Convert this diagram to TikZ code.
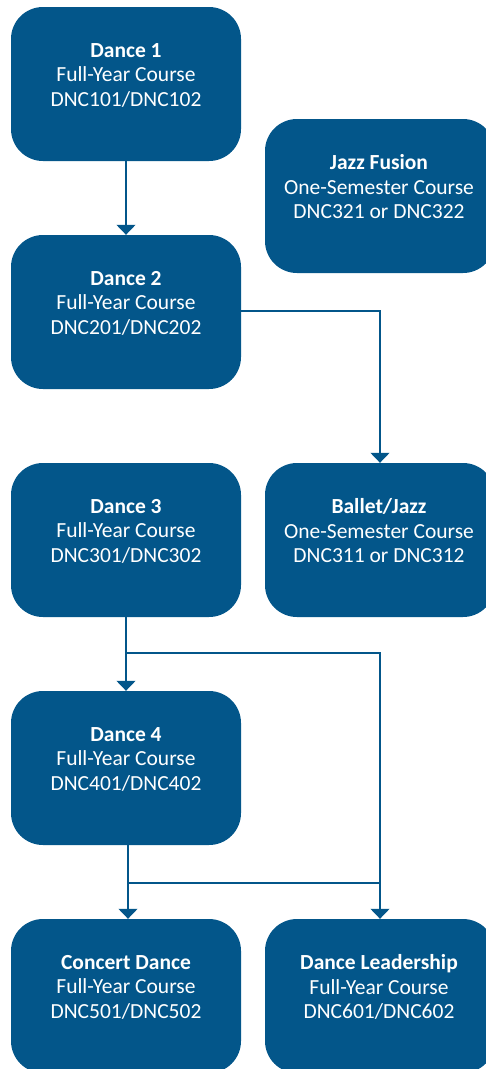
\documentclass[tikz,border=0pt]{standalone}
\usepackage{fontspec}
\setmainfont{Carlito}
\usetikzlibrary{arrows.meta}
\definecolor{navy}{HTML}{03568A}
\tikzset{
  course/.style={fill=navy, draw=none, rounded corners=32pt, minimum width=230pt, minimum height=154pt, inner sep=0pt},
  ctext/.style={text=white, align=center, font=\fontsize{21.5}{24.5}\selectfont, inner sep=0pt},
  link/.style={draw=navy, line width=1.2pt},
  arr/.style={link, -{Triangle[width=19pt,length=10pt]}}
}
\begin{document}
\begin{tikzpicture}[x=1pt,y=-1pt]
\useasboundingbox (0,0) rectangle (486,1069);
\clip (0,0) rectangle (486,1069);
% boxes
\node[course] (d1) at (126,84) {};
\node[course] (d2) at (126,312) {};
\node[course] (d3) at (126,540) {};
\node[course] (d4) at (126,768) {};
\node[course] (cd) at (126,996) {};
\node[course] (jf) at (380,196) {};
\node[course] (bj) at (380,540) {};
\node[course] (dl) at (380,996) {};
% texts
\node[ctext] (d1t) at (126,75) {\textbf{Dance 1}\\Full-Year Course\\DNC101/DNC102};
\node[ctext] (d2t) at (126,303) {\textbf{Dance 2}\\Full-Year Course\\DNC201/DNC202};
\node[ctext] (d3t) at (126,531) {\textbf{Dance 3}\\Full-Year Course\\DNC301/DNC302};
\node[ctext] (d4t) at (126,759) {\textbf{Dance 4}\\Full-Year Course\\DNC401/DNC402};
\node[ctext] (cdt) at (126,987) {\textbf{Concert Dance}\\Full-Year Course\\DNC501/DNC502};
\node[ctext] (jft) at (379,187) {\textbf{Jazz Fusion}\\One-Semester Course\\DNC321 or DNC322};
\node[ctext] (bjt) at (379,531) {\textbf{Ballet/Jazz}\\One-Semester Course\\DNC311 or DNC312};
\node[ctext] (dlt) at (379,987) {\textbf{Dance Leadership}\\Full-Year Course\\DNC601/DNC602};
% connectors
\coordinate (j1) at (126,653);
\coordinate (j2) at (128,883);
\draw[arr] (d1.south) -- (d2.north);
\draw[arr] ([yshift=1pt]d2.east) -| (bj.north);
\draw[arr] (d3.south) -- (d4.north);
\draw[arr] (j1) -| (dl.north);
\draw[arr] ([xshift=2pt]d4.south) -- ([xshift=2pt]cd.north);
\draw[link] (j2) -- (j2 -| dl.north);
\end{tikzpicture}
\end{document}
